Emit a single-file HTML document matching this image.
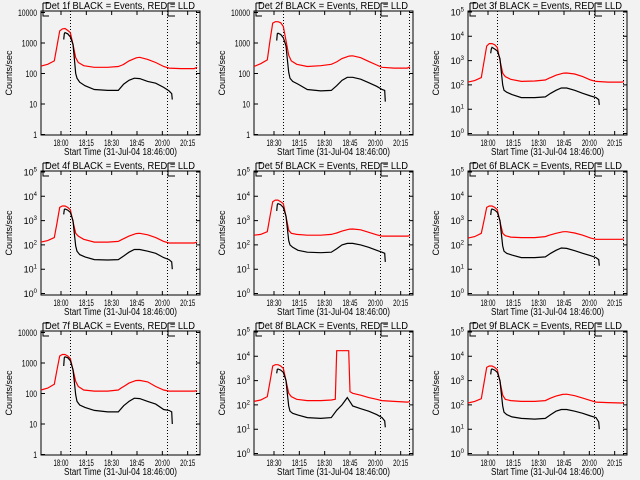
<!DOCTYPE html>
<html><head><meta charset="utf-8"><style>
body{margin:0;background:#f2f2f2;width:640px;height:480px;overflow:hidden}
svg{display:block;font-family:"Liberation Sans",sans-serif}
</style></head><body>
<svg id="root" width="640" height="480" viewBox="0 0 640 480"></svg>
<script>
const detNames = ['1f','2f','3f','4f','5f','6f','7f','8f','9f'];
const axisStyle = ['A','A','B','B','B','B','A','B','B'];
const xTickLabelsA = ['18:00','18:15','18:30','18:45','20:00','20:15'];
const xTickLabelsB = ['18:30','18:15','18:30','18:45','20:00','20:15'];
const xTickMinutes = [15,34,53,72,91,110];
const markerMinutes = [21.5,94.5,116];
const tRed = [0,5,10,12,14,16,18,20,22,24,26,28,32,40,50,58,61,62,66,71,72,74,80,86,92,96,105,115,117];
const tBlack = [17,17.5,18,20,22,24,25,26,27,29,33,40,50,58,62,66,70,74,80,86,92,96,98,98.5];
const red1 = [175,200,260,800,2500,2900,3000,2600,2200,900,330,230,180,160,160,170,190,200,260,320,330,340,290,230,170,150,145,145,160];
const red2 = [170,210,280,1200,4500,5000,5000,4600,3500,1200,400,260,200,170,180,200,230,240,310,370,375,380,330,250,190,160,150,150,165];
const red3 = [130,150,200,900,4000,5000,5000,4500,3500,1000,300,220,170,140,145,160,190,200,250,300,305,310,280,220,160,140,130,130,135];
const red4 = [130,150,200,800,3500,4000,4000,3500,2800,900,300,230,170,130,130,140,170,180,230,290,295,300,260,200,140,120,120,120,130];
const red5 = [250,270,350,1500,6000,7000,7000,6000,5000,1500,400,300,270,250,250,270,300,310,370,440,445,450,420,330,260,230,230,230,240];
const red6 = [190,220,300,1000,3500,4000,4000,3500,2800,900,300,240,210,200,200,220,250,260,300,345,348,350,310,250,190,170,170,170,175];
const red7 = [130,150,200,600,1700,1900,1900,1700,1400,600,250,170,130,120,120,130,160,170,220,265,268,270,240,170,130,120,120,120,125];
const red8 = [140,160,220,900,4000,4500,4500,4000,3200,1000,300,220,170,150,150,160,170,17000,17000,17000,350,300,250,200,170,150,140,130,135];
const red9 = [120,140,180,800,3500,4000,4000,3500,2800,900,250,170,150,140,140,150,180,190,230,270,272,275,240,190,150,130,125,120,125];
const black1 = [1300,2000,2200,2000,1600,900,320,100,70,52,40,30,28,28,45,60,70,68,55,48,35,27,22,14];
const black2 = [1200,2000,2100,1900,1500,800,300,110,70,55,45,30,27,28,40,60,75,75,65,50,38,30,28,12];
const black3 = [2000,3000,3500,3000,2500,1200,350,100,60,50,40,30,30,32,45,60,75,75,60,45,35,30,25,15];
const black4 = [1800,2800,3000,2700,2200,1000,300,90,55,40,32,25,24,25,35,50,65,65,55,45,30,25,20,10];
const black5 = [2500,4500,5000,4500,3500,1500,500,150,100,80,60,50,48,50,70,100,115,115,100,80,60,50,45,20];
const black6 = [1700,2700,3000,2700,2200,1000,300,90,55,45,38,30,30,32,45,60,75,72,58,45,36,30,25,14];
const black7 = [800,1500,1600,1500,1200,600,250,90,55,42,35,28,25,25,40,55,70,68,55,45,30,28,25,10];
const black8 = [2000,2900,3000,2700,2200,1000,300,90,55,45,38,30,28,30,60,100,200,90,70,55,40,30,22,12];
const black9 = [1800,2800,3000,2700,2200,1000,300,90,50,40,32,28,26,28,40,55,65,65,55,45,35,30,20,10];
const redSeries = [red1,red2,red3,red4,red5,red6,red7,red8,red9];
const blackSeries = [black1,black2,black3,black4,black5,black6,black7,black8,black9];
const yTickExpA = [0,1,2,3,4];
const yTickTextA = ['1','10','100','1000','10000'];
const yTickExpB = [0,1,2,3,4,5];

const NS='http://www.w3.org/2000/svg';
const root=document.getElementById('root');
function mk(tag,attrs,parent){const e=document.createElementNS(NS,tag);for(const k in attrs)e.setAttribute(k,attrs[k]);parent.appendChild(e);return e;}
const L=41,R=200,T=11,B=135,TMAX=(R-L)*0.75;

for(let p=0;p<9;p++){
  const ox=[0,213,427][p%3], oy=[0,160,320][Math.floor(p/3)];
  const g=mk('g',{transform:`translate(${ox},${oy})`},root);
  
  
  const st=axisStyle[p];
  const lmin= st==='A'? -0.016 : -0.06, lmax = st==='A'? 4.05 : 5.04;
  const xs=t=>L+(t/TMAX)*(R-L);
  const ys=v=>B-(Math.log10(v)-lmin)/(lmax-lmin)*(B-T);
  const ti=mk('text',{x:45,y:9,'font-size':10,textLength:150,lengthAdjust:'spacingAndGlyphs'},g);
  ti.textContent='Det '+detNames[p]+' BLACK = Events, RED = LLD';
  
  
  const br=mk('path',{d:'M43,3H49M43,3V16H49M168,3H175M168,3V16H175',stroke:'#000',fill:'none','stroke-width':1},g);
  
  
  const fr=mk('rect',{x:L,y:T,width:R-L,height:B-T,fill:'none',stroke:'#000','stroke-width':1},g);
  
  
  const exps= st==='A'?yTickExpA:yTickExpB;
  exps.forEach((e,i)=>{
    const y=ys(Math.pow(10,e));
    mk('path',{d:`M${L},${y}h4M${R},${y}h-4`,stroke:'#000'},g);
    const tx=mk('text',{x:37,y:y+3.5,'font-size':9,'text-anchor':'end'},g);
    
    
    if(st==='A'){tx.textContent=yTickTextA[i];tx.setAttribute('textLength',yTickTextA[i].length*3.8);tx.setAttribute('lengthAdjust','spacingAndGlyphs');}
    else{tx.textContent='10';const s=mk('tspan',{'font-size':6,dy:-4},tx);s.textContent=String(e);}
  });
  const xl= (p%3===1)?xTickLabelsB:xTickLabelsA;
  xTickMinutes.forEach((m,i)=>{
    const x=xs(m);
    mk('path',{d:`M${x},${B}v-4M${x},${T}v4`,stroke:'#000'},g);
    const tx=mk('text',{x:x-7.5,y:146,'font-size':9,textLength:15,lengthAdjust:'spacingAndGlyphs'},g);
    tx.textContent=xl[i];
    
    
  });
  markerMinutes.forEach(m=>{
    const x=Math.round(xs(m))+0.5;
    const ln=mk('line',{x1:x,x2:x,y1:T,y2:B,stroke:'#000','stroke-dasharray':'1,2','shape-rendering':'crispEdges'},g);
    
    
  });
  const xlab=mk('text',{x:64,y:155,'font-size':10,textLength:113,lengthAdjust:'spacingAndGlyphs'},g);
  xlab.textContent='Start Time (31-Jul-04 18:46:00)';
  
  
  const ylab=mk('text',{x:0,y:0,'font-size':9,'text-anchor':'middle',transform:'translate(12,73) rotate(-90)'},g);
  ylab.textContent='Counts/sec';
  
  
  const rp=tRed.map((t,i)=>xs(t).toFixed(1)+','+ys(redSeries[p][i]).toFixed(1)).join(' ');
  const rl=mk('polyline',{points:rp,fill:'none',stroke:'#ff0000','stroke-width':1.2},g);
  
  
  const bp=tBlack.map((t,i)=>xs(t).toFixed(1)+','+ys(blackSeries[p][i]).toFixed(1)).join(' ');
  const bl=mk('polyline',{points:bp,fill:'none',stroke:'#000','stroke-width':1.2},g);
  
  
}
</script>
</body></html>
